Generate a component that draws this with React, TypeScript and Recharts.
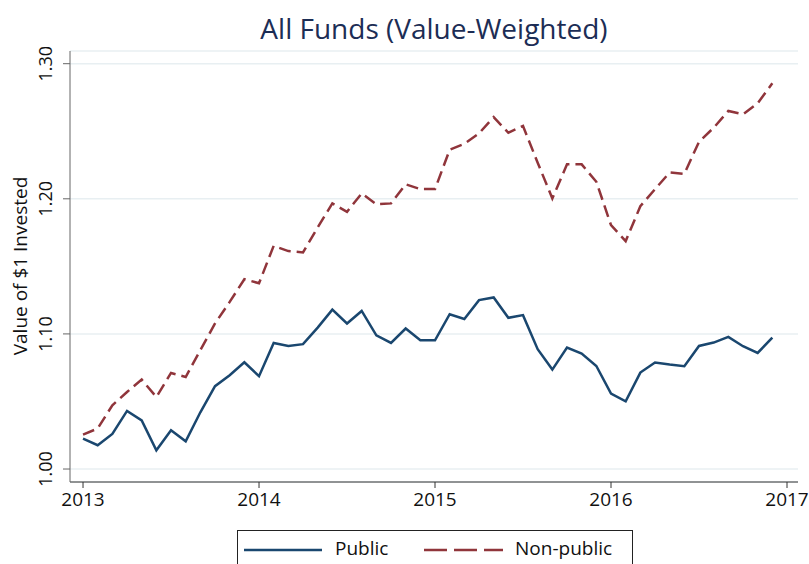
import { CartesianGrid, Line, LineChart, XAxis, YAxis } from "recharts";

const START_YEAR = 2013;
const YEAR_TICKS = [2013, 2014, 2015, 2016, 2017];
const VALUE_TICKS = [1.0, 1.1, 1.2, 1.3];

const publicValues = [
  1.0225, 1.0176, 1.026, 1.043, 1.036, 1.0139, 1.0287, 1.0205, 1.042, 1.0613, 1.0694, 1.079,
  1.0687, 1.0933, 1.0911, 1.0924, 1.1047, 1.118, 1.1077, 1.117, 1.099, 1.0933, 1.104, 1.0953,
  1.0953, 1.1146, 1.1111, 1.125, 1.127, 1.1119, 1.1139, 1.0887, 1.0736, 1.0899, 1.0855, 1.0763,
  1.0558, 1.0501, 1.0714, 1.0788, 1.0773, 1.0761, 1.0911, 1.0936, 1.0978, 1.0909, 1.0859, 1.0973,
];

const nonPublicValues = [
  1.0255, 1.03, 1.0472, 1.057, 1.0662, 1.0533, 1.0711, 1.0681, 1.088, 1.1077, 1.1237, 1.1405,
  1.1375, 1.1652, 1.1613, 1.1603, 1.1788, 1.1966, 1.1904, 1.204, 1.1959, 1.1966, 1.2107, 1.2072,
  1.2072, 1.2363, 1.2408, 1.2484, 1.2605, 1.2489, 1.2539, 1.2267, 1.2003, 1.2255, 1.2255, 1.2126,
  1.1805, 1.1687, 1.1945, 1.2071, 1.2195, 1.2185, 1.2422, 1.2526, 1.265, 1.2625, 1.2707, 1.2855,
];

const rows = publicValues.map((v, i) => ({
  t: START_YEAR + i / 12,
  pub: v,
  nonpub: nonPublicValues[i],
}));

const FONT = "'Open Sans', 'Noto Sans', sans-serif";
const BLUE = "#1a476f";
const RED = "#90353b";

function YTick(props: any) {
  const { x, y, payload } = props;
  const bx = x - 9;
  return (
    <text
      x={bx}
      y={y}
      transform={`rotate(-90, ${bx}, ${y})`}
      textAnchor="middle"
      fontSize={18}
      fill="#111"
      fontFamily={FONT}
    >
      {payload.value.toFixed(2)}
    </text>
  );
}

export default function App() {
  return (
    <div style={{ position: "absolute", left: 0, top: 0, width: 809, height: 564, background: "#fff", fontFamily: FONT, overflow: "hidden" }}>
      <div
        style={{
          position: "absolute",
          left: 70,
          width: 728,
          top: 10,
          textAlign: "center",
          fontSize: 28,
          color: "#1c2d55",
          lineHeight: "36px",
        }}
      >
        All Funds (Value-Weighted)
      </div>
      <div
        style={{
          position: "absolute",
          left: 20,
          top: 266,
          transform: "translate(-50%, -50%) rotate(-90deg)",
          fontSize: 19,
          lineHeight: "22px",
          color: "#111",
          whiteSpace: "nowrap",
        }}
      >
        Value of $1 Invested
      </div>
      <LineChart width={809} height={564} data={rows} margin={{ top: 51, right: 11, left: 0, bottom: 52 }}>
        <CartesianGrid vertical={false} stroke="#e8eff2" strokeWidth={1.5} />
        <XAxis
          dataKey="t"
          type="number"
          domain={[2012.926, 2017.0625]}
          ticks={YEAR_TICKS}
          allowDataOverflow
          height={30}
          stroke="#333"
          tickSize={6}
          tickMargin={5}
          tick={{ fontSize: 19, fill: "#111", fontFamily: FONT }}
          tickFormatter={(v: number) => String(Math.round(v))}
        />
        <YAxis
          type="number"
          domain={[0.9904, 1.3094]}
          ticks={VALUE_TICKS}
          allowDataOverflow
          width={70}
          stroke="#666"
          tickSize={7}
          tick={<YTick />}
        />
        <Line
          type="linear"
          dataKey="pub"
          stroke={BLUE}
          strokeWidth={2.5}
          dot={false}
          isAnimationActive={false}
        />
        <Line
          type="linear"
          dataKey="nonpub"
          stroke={RED}
          strokeWidth={2.5}
          strokeDasharray="12 6"
          dot={false}
          isAnimationActive={false}
        />
      </LineChart>
      <div
        style={{
          position: "absolute",
          left: 237,
          top: 530,
          width: 396,
          height: 40,
          border: "1px solid #222",
          boxSizing: "border-box",
          fontSize: 19,
          color: "#111",
        }}
      >
        <svg width={90} height={20} style={{ position: "absolute", left: 6, top: 9 }}>
          <line x1={0} y1={10} x2={78} y2={10} stroke={BLUE} strokeWidth={2.5} />
        </svg>
        <span style={{ position: "absolute", left: 97, top: 4 }}>Public</span>
        <svg width={90} height={20} style={{ position: "absolute", left: 186, top: 9 }}>
          <line x1={0} y1={10} x2={79} y2={10} stroke={RED} strokeWidth={2.5} strokeDasharray="23 7" />
        </svg>
        <span style={{ position: "absolute", left: 277, top: 4 }}>Non-public</span>
      </div>
    </div>
  );
}
